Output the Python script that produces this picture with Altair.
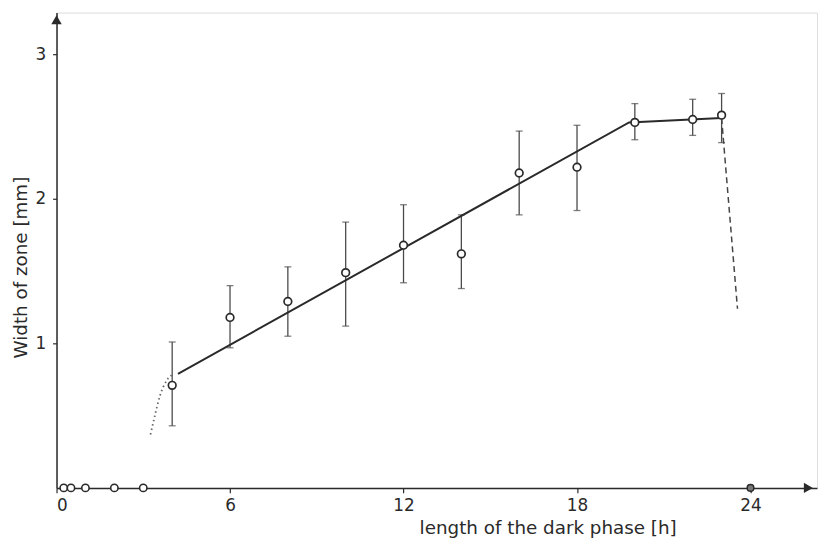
import altair as alt
import pandas as pd

# measured points (mean with error bars)
hours = [4, 6, 8, 10, 12, 14, 16, 18, 20, 22, 23]
width_mean = [0.71, 1.18, 1.29, 1.49, 1.68, 1.62, 2.18, 2.22, 2.53, 2.55, 2.58]
err_low = [0.43, 0.97, 1.05, 1.12, 1.42, 1.38, 1.89, 1.92, 2.41, 2.44, 2.39]
err_high = [1.01, 1.40, 1.53, 1.84, 1.96, 1.89, 2.47, 2.51, 2.66, 2.69, 2.73]

# points lying on zero
zero_hours = [0.25, 0.5, 1, 2, 3]
zero_width = [0, 0, 0, 0, 0]
end_hours = [24]
end_width = [0]

# fitted solid line
fit_x = [4.2, 19.8, 23.0]
fit_y = [0.79, 2.53, 2.56]
# dashed drop
drop_x = [23.0, 23.55]
drop_y = [2.56, 1.24]
# dotted rise
dot_x = [3.25, 3.4, 3.58, 3.8, 4.05]
dot_y = [0.37, 0.50, 0.64, 0.74, 0.79]

x_ticks = [0, 6, 12, 18, 24]
y_ticks = [1, 2, 3]
X_MAX = 26.3
Y_MAX = 3.29

FONT = "DejaVu Sans"
INK = "#2a2a2a"

meas = pd.DataFrame({"h": hours, "w": width_mean, "lo": err_low, "hi": err_high})
zeros = pd.DataFrame({"h": zero_hours, "w": zero_width})
ends = pd.DataFrame({"h": end_hours, "w": end_width})
fit = pd.DataFrame({"h": fit_x, "w": fit_y})
drop = pd.DataFrame({"h": drop_x, "w": drop_y})
dots = pd.DataFrame({"h": dot_x, "w": dot_y})

xs = alt.Scale(domain=[0, X_MAX], nice=False)
ys = alt.Scale(domain=[0, Y_MAX], nice=False)

x_axis = alt.Axis(
    values=x_ticks, title="length of the dark phase [h]", grid=False, format="d",
    domainColor=INK, domainWidth=1.5, tickColor=INK, tickSize=5, tickWidth=1.2,
    labelFont=FONT, labelFontSize=17, labelColor=INK, labelPadding=5,
    titleFont=FONT, titleFontSize=18.5, titleFontWeight="normal", titleColor=INK,
    titleX=496, titleY=31, titleAlign="center", titleBaseline="top",
)
y_axis = alt.Axis(
    values=y_ticks, title="Width of zone [mm]", grid=False, format="d",
    domainColor=INK, domainWidth=1.5, tickColor=INK, tickSize=4, tickWidth=1.2,
    labelFont=FONT, labelFontSize=17, labelColor=INK, labelPadding=7,
    titleFont=FONT, titleFontSize=18.5, titleFontWeight="normal", titleColor=INK,
    titleX=-26, titleY=257, titleAlign="center", titleAngle=-90, titleBaseline="bottom",
)

base_x = alt.X("h:Q", scale=xs, axis=x_axis)
base_y = alt.Y("w:Q", scale=ys, axis=y_axis)

rules = alt.Chart(meas).mark_rule(color="#4a4a4a", strokeWidth=1.3).encode(
    x=base_x, y=alt.Y("lo:Q", scale=ys, axis=y_axis), y2="hi:Q"
)
caps_lo = alt.Chart(meas).mark_tick(color="#4a4a4a", orient="horizontal", size=7, thickness=1.3).encode(
    x=alt.X("h:Q", scale=xs), y=alt.Y("lo:Q", scale=ys)
)
caps_hi = alt.Chart(meas).mark_tick(color="#4a4a4a", orient="horizontal", size=7, thickness=1.3).encode(
    x=alt.X("h:Q", scale=xs), y=alt.Y("hi:Q", scale=ys)
)
fit_line = alt.Chart(fit).mark_line(color=INK, strokeWidth=2).encode(x=base_x, y=base_y)
drop_line = alt.Chart(drop).mark_line(color="#444444", strokeWidth=1.5, strokeDash=[6, 4]).encode(x=base_x, y=base_y)
dot_line = alt.Chart(dots).mark_line(color="#666666", strokeWidth=1.8, strokeDash=[1.5, 3], interpolate="monotone").encode(x=base_x, y=base_y)

pts = alt.Chart(meas).mark_point(shape="circle", size=60, filled=True, fill="white", stroke=INK, strokeWidth=1.7, opacity=1).encode(
    x=alt.X("h:Q", scale=xs), y=alt.Y("w:Q", scale=ys)
)
zpts = alt.Chart(zeros).mark_point(shape="circle", size=55, filled=True, fill="white", stroke=INK, strokeWidth=1.6, opacity=1).encode(
    x=alt.X("h:Q", scale=xs), y=alt.Y("w:Q", scale=ys)
)
epts = alt.Chart(ends).mark_point(shape="circle", size=45, filled=True, fill="#777777", stroke=INK, strokeWidth=1.5, opacity=1).encode(
    x=alt.X("h:Q", scale=xs), y=alt.Y("w:Q", scale=ys)
)

arrow_x = alt.Chart(pd.DataFrame({"h": [X_MAX - 0.3], "w": [0]})).mark_point(
    shape="triangle-right", size=110, filled=True, color=INK, opacity=1
).encode(x=alt.X("h:Q", scale=xs), y=alt.Y("w:Q", scale=ys))
arrow_y = alt.Chart(pd.DataFrame({"h": [0], "w": [Y_MAX - 0.05]})).mark_point(
    shape="triangle-up", size=110, filled=True, color=INK, opacity=1
).encode(x=alt.X("h:Q", scale=xs), y=alt.Y("w:Q", scale=ys))

chart = alt.layer(
    rules, caps_lo, caps_hi, dot_line, fit_line, drop_line, zpts, epts, pts, arrow_x, arrow_y
).properties(
    width=768, height=480,
    autosize=alt.AutoSizeParams(type="none"),
    padding={"left": 49, "top": 2, "right": 2, "bottom": 54},
).configure_view(stroke=None).configure(background="white")

chart.save("out.html", embed_options={"renderer": "svg", "actions": False})
